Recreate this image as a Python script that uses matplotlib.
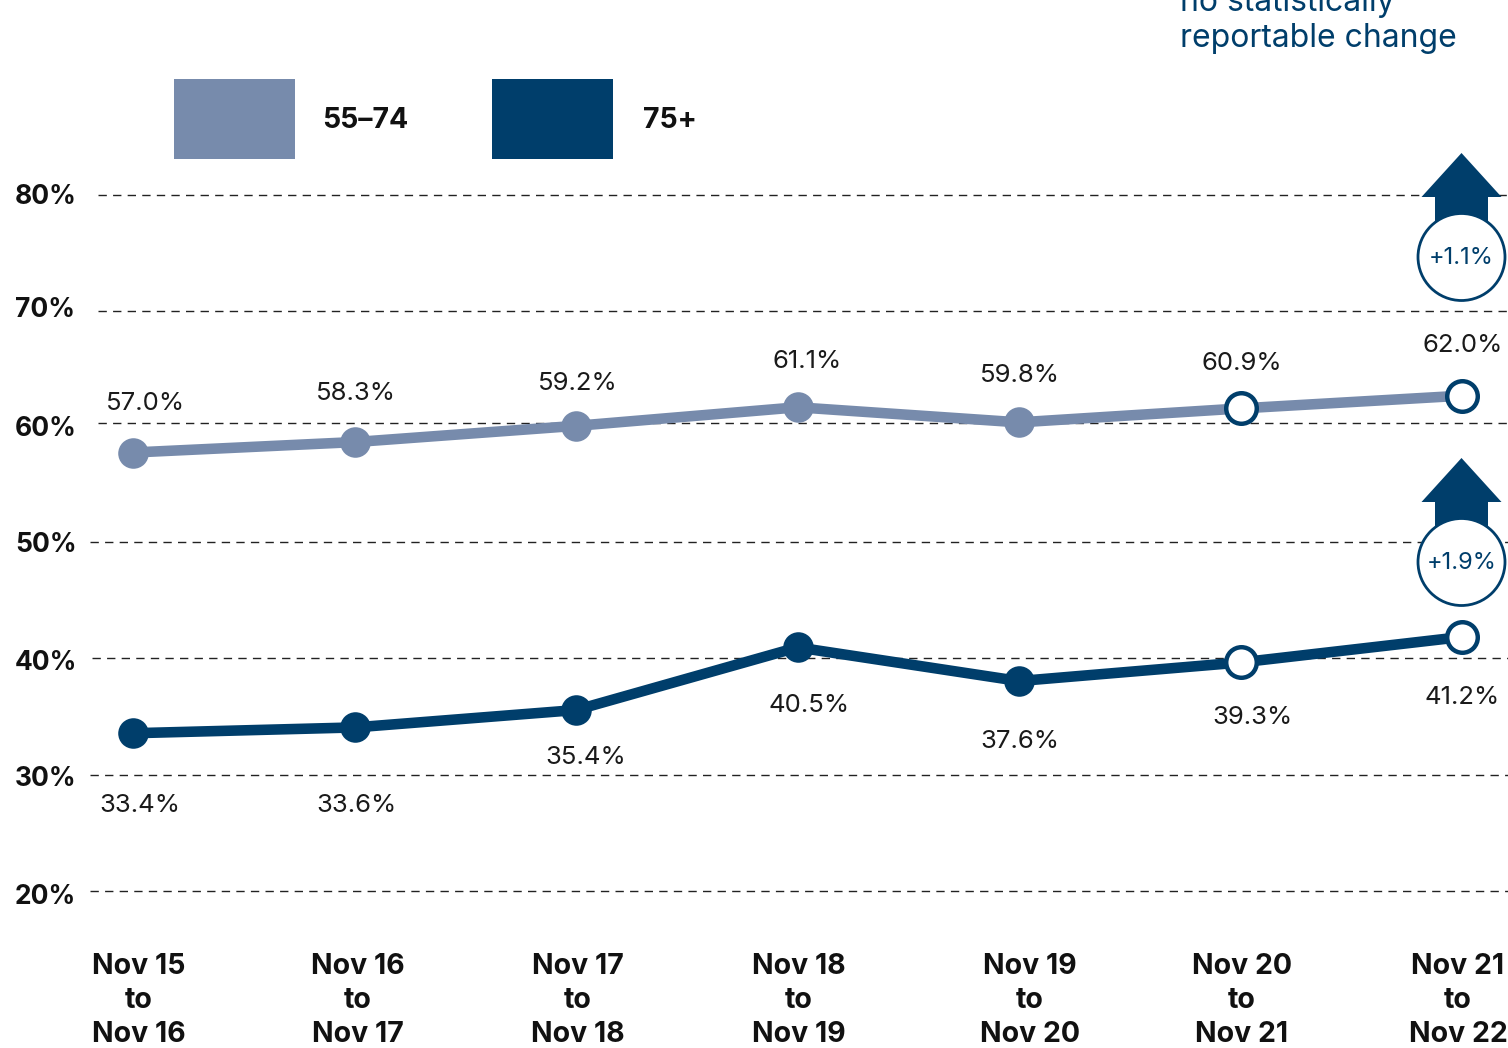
import numpy as np
import matplotlib
matplotlib.use('Agg')
import matplotlib.pyplot as plt
from matplotlib.patches import Circle, Polygon, Rectangle

periods = ['Nov 15\nto\nNov 16', 'Nov 16\nto\nNov 17', 'Nov 17\nto\nNov 18', 'Nov 18\nto\nNov 19',
           'Nov 19\nto\nNov 20', 'Nov 20\nto\nNov 21', 'Nov 21\nto\nNov 22']
# heights as the marks sit against the grid in the picture
age_55_74 = [57.8, 58.7, 60.1, 61.7, 60.4, 61.6, 62.7]
age_75 = [33.6, 34.1, 35.6, 41.0, 38.1, 39.7, 41.9]
labels_55_74 = ['57.0%', '58.3%', '59.2%', '61.1%', '59.8%', '60.9%', '62.0%']
labels_75 = ['33.4%', '33.6%', '35.4%', '40.5%', '37.6%', '39.3%', '41.2%']
grid_levels = [80, 70, 60.35, 50.1, 40.1, 30, 20]
tick_labels = ['80%', '70%', '60%', '50%', '40%', '30%', '20%']
changes = ['+1.1%', '+1.9%']
legend_names = ['55–74', '75+']

LIGHT = '#778BAC'
DARK = '#003E6B'
W, H = 1508, 1048
FONT = 'Inter'

plt.rcParams['font.family'] = [FONT, 'DejaVu Sans']
fig = plt.figure(figsize=(W / 100, H / 100), dpi=100)

# data axes fill the figure
ax = fig.add_axes([0, 0, 1, 1])
x0, dx = 133, 221.5
y80, dy = 195, 11.6
ax.set_xlim(-x0 / dx, (W - x0) / dx)
ax.set_ylim(80 - (H - y80) / dy, 80 + y80 / dy)
ax.axis('off')

# overlay in pixels, y going down, for labels and decorations
px = fig.add_axes([0, 0, 1, 1])
px.set_xlim(0, W)
px.set_ylim(H, 0)
px.axis('off')
px.patch.set_alpha(0)

grid_start = [98, 98, 98, 90, 92, 90, 90]
for lev, s in zip(grid_levels, grid_start):
    ax.plot([(s - x0) / dx, (W - x0) / dx], [lev, lev], color='#222222', lw=1, ls=(0, (6, 4.5)), zorder=1)

x = np.arange(len(periods))
for vals, col in ((age_55_74, LIGHT), (age_75, DARK)):
    ax.plot(x, vals, color=col, lw=7.6, zorder=2, solid_capstyle='round')
    ax.plot(x[:5], vals[:5], 'o', color=col, ms=22, mew=0, zorder=3)
    ax.plot(x[5:], vals[5:], 'o', mfc='white', mec=DARK, ms=22, mew=3.2, zorder=3)

value_size = 18.5
pos_55_74 = [(145, 404), (356, 393), (578, 383), (807, 362), (1020, 375), (1242, 363), (1463, 345)]
pos_75 = [(140, 805), (356, 805), (586, 758), (809, 705), (1020, 741), (1252, 717), (1462, 697)]
for lab, (tx, ty) in zip(labels_55_74 + labels_75, pos_55_74 + pos_75):
    px.text(tx, ty, lab, ha='center', va='center', fontsize=value_size, color='#1a1a1a')

tick_y = [197, 310, 429, 545, 663, 779, 897]
for lab, ty in zip(tick_labels, tick_y):
    px.text(15, ty, lab, ha='left', va='center', fontsize=19, fontweight='bold', color='#111111')

tick_x = [139, 358, 578, 799, 1030, 1242, 1458]
for lab, tx in zip(periods, tick_x):
    for line, ty in zip(lab.split('\n'), (966, 1001, 1034)):
        px.text(tx, ty, line, ha='center', va='center', fontsize=20.5, fontweight='bold', color='#111111')

# legend
for left, col, name, tx in ((174, LIGHT, legend_names[0], 322), (492, DARK, legend_names[1], 643)):
    px.add_patch(Rectangle((left, 79), 121, 80, fc=col, ec='none'))
    px.text(tx, 120, name, ha='left', va='center', fontsize=20.5, fontweight='bold', color='#111111')

# top note, cut off by the edge as in the original
px.text(1180, 3, 'no statistically', ha='left', va='center', fontsize=23, color=DARK, clip_on=True)
px.text(1180, 39, 'reportable change', ha='left', va='center', fontsize=23, color=DARK)

# change arrows with badges
cx = 1461.5
for tip, text in zip((153, 458), changes):
    arrow = [(cx, tip), (cx + 40, tip + 44), (cx + 26.5, tip + 44), (cx + 26.5, tip + 70),
             (cx - 26.5, tip + 70), (cx - 26.5, tip + 44), (cx - 40, tip + 44)]
    px.add_patch(Polygon(arrow, closed=True, fc=DARK, ec='none', zorder=5))
    px.add_patch(Circle((cx, tip + 104), 43.5, fc='white', ec=DARK, lw=2, zorder=6))
    px.text(cx, tip + 105, text, ha='center', va='center', fontsize=17, color=DARK, zorder=7)

fig.savefig('out.png', dpi=100)
